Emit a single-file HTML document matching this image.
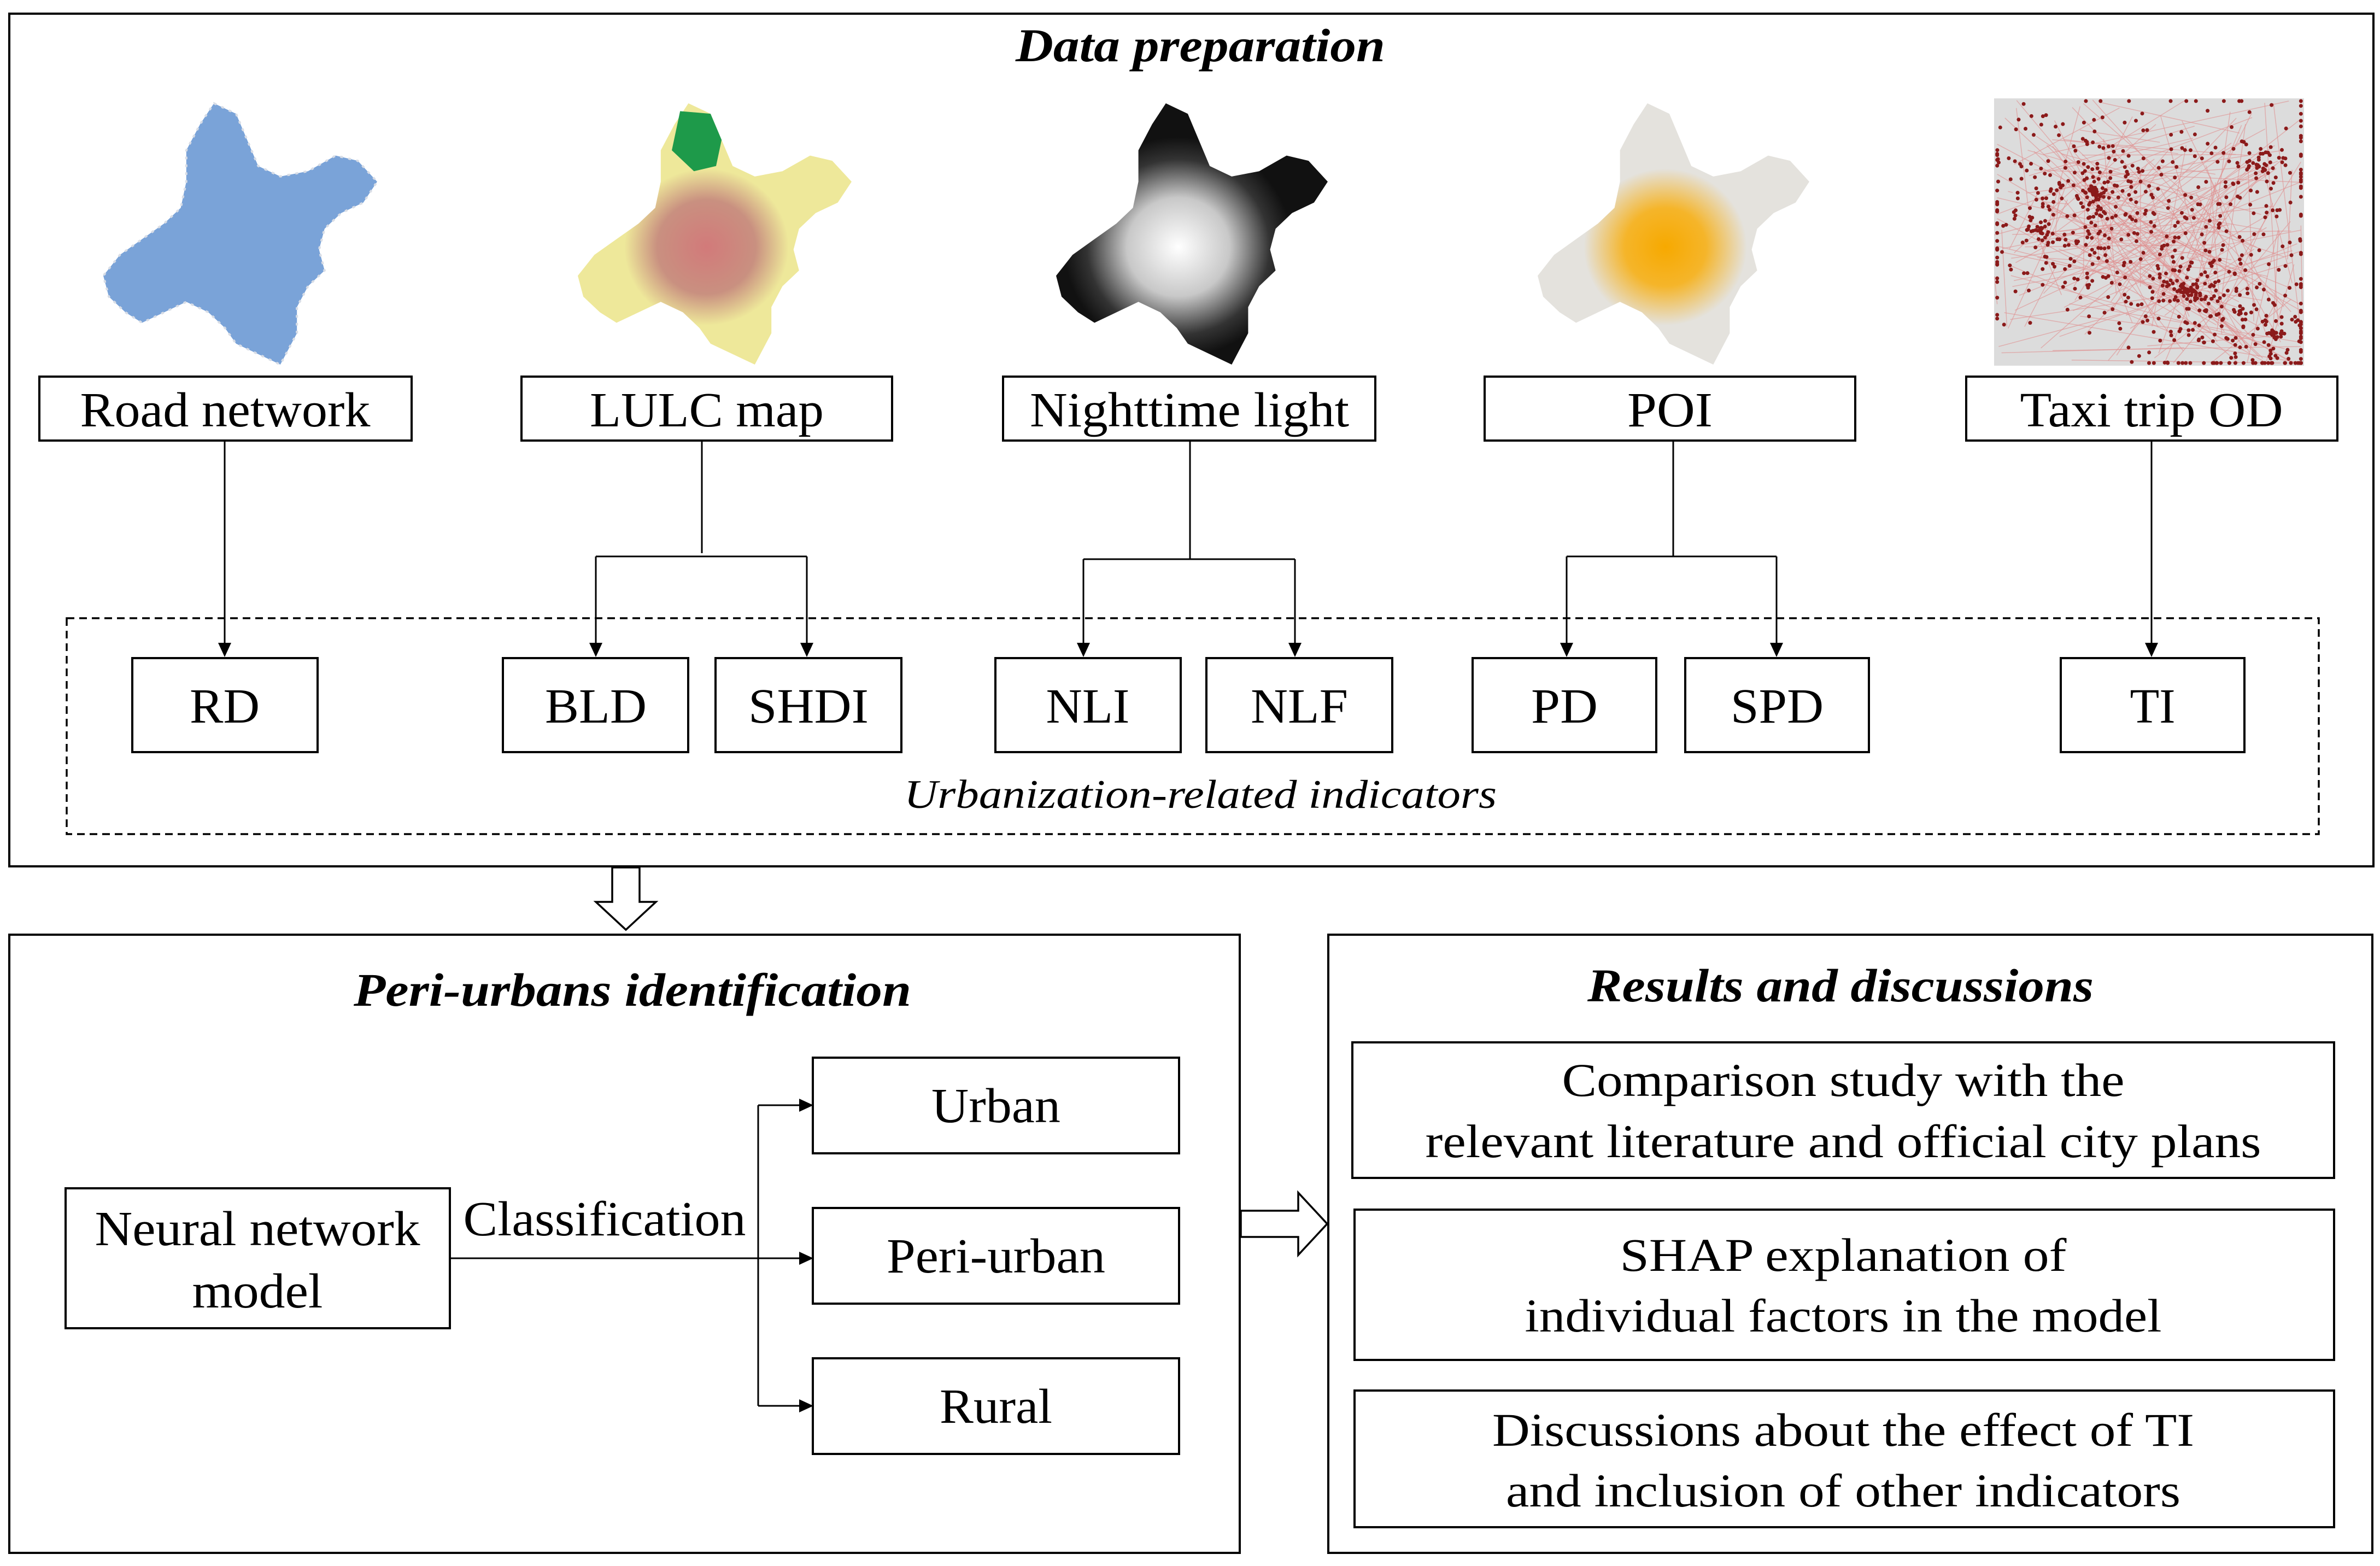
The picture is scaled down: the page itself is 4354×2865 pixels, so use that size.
<!DOCTYPE html>
<html><head><meta charset="utf-8"><style>
html,body{margin:0;padding:0;background:#fff;}
svg{display:block;}
text{font-family:"Liberation Serif","Times New Roman","DejaVu Serif",serif;fill:#000;}
</style></head><body>
<svg id="s" width="4354" height="2865" viewBox="0 0 4354 2865" xmlns="http://www.w3.org/2000/svg">
<defs>
<path id="wh" d="M40,0 L48,4 L52,14 L56,24 L64,28 L74,26 L84,20 L92,22 L99,30 L94,38 L86,42 L80,48 L78,56 L80,64 L74,70 L70,78 L70,88 L64,100 L56,96 L48,92 L44,86 L38,80 L30,76 L22,80 L14,84 L8,80 L2,74 L0,66 L6,58 L14,52 L22,46 L28,40 L30,30 L30,18 L35,8 Z"/>
<radialGradient id="ng" cx="0.45" cy="0.55" r="0.42"><stop offset="0" stop-color="#fff"/><stop offset="0.45" stop-color="#c8c8c8"/><stop offset="0.8" stop-color="#333"/><stop offset="1" stop-color="#111"/></radialGradient>
<radialGradient id="pg" cx="0.47" cy="0.55" r="0.3"><stop offset="0" stop-color="#f7a900"/><stop offset="0.5" stop-color="#f5b52a"/><stop offset="1" stop-color="#e4e2dd"/></radialGradient>
<radialGradient id="lg" cx="0.47" cy="0.55" r="0.3"><stop offset="0" stop-color="#d27a7a"/><stop offset="0.6" stop-color="#c99080"/><stop offset="1" stop-color="#eee89a"/></radialGradient>
</defs>
<g stroke="#000" fill="none" stroke-width="4">
<rect x="17" y="25" width="4325" height="1560"/>
<rect x="17" y="1710" width="2251" height="1131"/>
<rect x="2430" y="1710" width="1910" height="1131"/>
</g>
<!-- maps -->
<g transform="translate(189,189) scale(5.06,4.78)"><use href="#wh" fill="#7aa3d8"/><use href="#wh" fill="none" stroke="#d8dde6" stroke-width="0.8" stroke-dasharray="1 2"/></g>
<g transform="translate(1057,189) scale(5.06,4.78)"><use href="#wh" fill="url(#lg)"/><path d="M37,3 L48,4 L52,14 L50,24 L42,26 L34,18 Z" fill="#1e9a4a"/></g>
<g transform="translate(1932,189) scale(5.02,4.78)"><use href="#wh" fill="url(#ng)"/></g>
<g transform="translate(2813,189) scale(5.02,4.78)"><use href="#wh" fill="url(#pg)"/></g>
<rect x="3648" y="180" width="567" height="489" fill="#dcdcdc"/>
<g id="taxi"></g>
<!-- title -->
<text x="2196" y="112" font-size="86" font-weight="bold" font-style="italic" text-anchor="middle" textLength="676" lengthAdjust="spacingAndGlyphs">Data preparation</text>
<g stroke="#000" stroke-width="4" fill="#fff">
<rect x="72" y="689" width="681" height="117"/>
<rect x="954" y="689" width="678" height="117"/>
<rect x="1835" y="689" width="681" height="117"/>
<rect x="2716" y="689" width="678" height="117"/>
<rect x="3597" y="689" width="679" height="117"/>
</g>
<g font-size="90" text-anchor="middle">
<text x="412" y="780" textLength="531" lengthAdjust="spacingAndGlyphs">Road network</text>
<text x="1293" y="780" textLength="428" lengthAdjust="spacingAndGlyphs">LULC map</text>
<text x="2176" y="780" textLength="584" lengthAdjust="spacingAndGlyphs">Nighttime light</text>
<text x="3055" y="780" textLength="156" lengthAdjust="spacingAndGlyphs">POI</text>
<text x="3936" y="780" textLength="481" lengthAdjust="spacingAndGlyphs">Taxi trip OD</text>
</g>
<!-- connectors -->
<g stroke="#000" stroke-width="3" fill="none">
<path d="M411,806 V1180"/>
<path d="M1284,806 V1012 M1090,1018 H1476 M1090,1018 V1180 M1476,1018 V1180"/>
<path d="M2177,806 V1023 M1982,1023 H2369 M1982,1023 V1180 M2369,1023 V1180"/>
<path d="M3061,806 V1018 M2866,1018 H3250 M2866,1018 V1180 M3250,1018 V1180"/>
<path d="M3936,806 V1180"/>
</g>
<g fill="#000">
<path d="M399,1176 L423,1176 L411,1202 Z"/>
<path d="M1078,1176 L1102,1176 L1090,1202 Z"/>
<path d="M1464,1176 L1488,1176 L1476,1202 Z"/>
<path d="M1970,1176 L1994,1176 L1982,1202 Z"/>
<path d="M2357,1176 L2381,1176 L2369,1202 Z"/>
<path d="M2854,1176 L2878,1176 L2866,1202 Z"/>
<path d="M3238,1176 L3262,1176 L3250,1202 Z"/>
<path d="M3924,1176 L3948,1176 L3936,1202 Z"/>
</g>
<rect x="122" y="1131" width="4120" height="395" fill="none" stroke="#000" stroke-width="3.5" stroke-dasharray="14 9"/>
<g stroke="#000" stroke-width="4" fill="#fff">
<rect x="242" y="1204" width="339" height="172"/>
<rect x="920" y="1204" width="339" height="172"/>
<rect x="1309" y="1204" width="340" height="172"/>
<rect x="1821" y="1204" width="339" height="172"/>
<rect x="2207" y="1204" width="340" height="172"/>
<rect x="2694" y="1204" width="336" height="172"/>
<rect x="3083" y="1204" width="336" height="172"/>
<rect x="3770" y="1204" width="336" height="172"/>
</g>
<g font-size="90" text-anchor="middle">
<text x="411" y="1322" textLength="128" lengthAdjust="spacingAndGlyphs">RD</text>
<text x="1090" y="1322" textLength="186" lengthAdjust="spacingAndGlyphs">BLD</text>
<text x="1479" y="1322" textLength="220" lengthAdjust="spacingAndGlyphs">SHDI</text>
<text x="1990" y="1322" textLength="153" lengthAdjust="spacingAndGlyphs">NLI</text>
<text x="2377" y="1322" textLength="178" lengthAdjust="spacingAndGlyphs">NLF</text>
<text x="2862" y="1322" textLength="122" lengthAdjust="spacingAndGlyphs">PD</text>
<text x="3251" y="1322" textLength="170" lengthAdjust="spacingAndGlyphs">SPD</text>
<text x="3938" y="1322" textLength="83" lengthAdjust="spacingAndGlyphs">TI</text>
</g>
<text x="2196" y="1478" font-size="74" font-style="italic" text-anchor="middle" textLength="1084" lengthAdjust="spacingAndGlyphs">Urbanization-related indicators</text>
<!-- hollow down arrow -->
<path d="M1120,1587 H1170 V1650 H1200 L1145,1701 L1090,1650 H1120 Z" fill="#fff" stroke="#000" stroke-width="3.5"/>
<!-- left panel -->
<text x="1157" y="1840" font-size="86" font-weight="bold" font-style="italic" text-anchor="middle" textLength="1020" lengthAdjust="spacingAndGlyphs">Peri-urbans identification</text>
<g stroke="#000" stroke-width="4" fill="#fff">
<rect x="120" y="2174" width="703" height="256"/>
<rect x="1487" y="1935" width="670" height="175"/>
<rect x="1487" y="2210" width="670" height="175"/>
<rect x="1487" y="2485" width="670" height="175"/>
</g>
<g stroke="#000" stroke-width="3" fill="none">
<path d="M823,2302 H1470 M1387,2022 V2572 M1387,2022 H1470 M1387,2572 H1470"/>
</g>
<g fill="#000">
<path d="M1462,2010 L1488,2022 L1462,2034 Z"/>
<path d="M1462,2290 L1488,2302 L1462,2314 Z"/>
<path d="M1462,2560 L1488,2572 L1462,2584 Z"/>
</g>
<g font-size="90" text-anchor="middle">
<text x="471" y="2278" textLength="595" lengthAdjust="spacingAndGlyphs">Neural network</text>
<text x="471" y="2392" textLength="239" lengthAdjust="spacingAndGlyphs">model</text>
<text x="1106" y="2260" textLength="517" lengthAdjust="spacingAndGlyphs">Classification</text>
<text x="1822" y="2053" textLength="236" lengthAdjust="spacingAndGlyphs">Urban</text>
<text x="1822" y="2328" textLength="400" lengthAdjust="spacingAndGlyphs">Peri-urban</text>
<text x="1822" y="2603" textLength="206" lengthAdjust="spacingAndGlyphs">Rural</text>
</g>
<!-- right arrow -->
<path d="M2270,2215 H2375 V2182 L2428,2239 L2375,2296 V2263 H2270 Z" fill="#fff" stroke="#000" stroke-width="3.5"/>
<!-- right panel -->
<text x="3367" y="1832" font-size="86" font-weight="bold" font-style="italic" text-anchor="middle" textLength="926" lengthAdjust="spacingAndGlyphs">Results and discussions</text>
<g stroke="#000" stroke-width="4" fill="#fff">
<rect x="2474" y="1907" width="1796" height="248"/>
<rect x="2478" y="2213" width="1792" height="275"/>
<rect x="2478" y="2544" width="1792" height="250"/>
</g>
<g font-size="86" text-anchor="middle">
<text x="3372" y="2005" textLength="1029" lengthAdjust="spacingAndGlyphs">Comparison study with the</text>
<text x="3372" y="2117" textLength="1529" lengthAdjust="spacingAndGlyphs">relevant literature and official city plans</text>
<text x="3372" y="2325" textLength="817" lengthAdjust="spacingAndGlyphs">SHAP explanation of</text>
<text x="3372" y="2436" textLength="1165" lengthAdjust="spacingAndGlyphs">individual factors in the model</text>
<text x="3372" y="2645" textLength="1284" lengthAdjust="spacingAndGlyphs">Discussions about the effect of TI</text>
<text x="3372" y="2756" textLength="1234" lengthAdjust="spacingAndGlyphs">and inclusion of other indicators</text>
</g>
</svg>
<script>
(function(){
var g=document.getElementById('taxi'),s=11,h='';
function r(){s=(s*16807)%2147483647;return s/2147483647;}
var x0=3648,y0=180,w=567,hh=489;
var c=[[0.32,0.35],[0.32,0.35],[0.62,0.72],[0.62,0.72],[0.9,0.88],[0.15,0.5],[0.85,0.25]];
function cl(v){return Math.min(0.99,Math.max(0.01,v));}
function pt(){var k=c[Math.floor(r()*c.length)];var a=r()*6.28,d=Math.pow(r(),1.3)*0.4;return [cl(k[0]+Math.cos(a)*d),cl(k[1]+Math.sin(a)*d)];}
for(var i=0;i<200;i++){var p=pt(),q=[r(),r()];h+='<line x1="'+(x0+p[0]*w)+'" y1="'+(y0+p[1]*hh)+'" x2="'+(x0+q[0]*w)+'" y2="'+(y0+q[1]*hh)+'" stroke="#e09090" stroke-width="1.5" opacity="0.6"/>';}
for(var j=0;j<900;j++){var p2=pt();h+='<circle cx="'+(x0+p2[0]*w)+'" cy="'+(y0+p2[1]*hh)+'" r="3.5" fill="#8b1a1a"/>';}
g.innerHTML=h;
})();
</script>
</body></html>
